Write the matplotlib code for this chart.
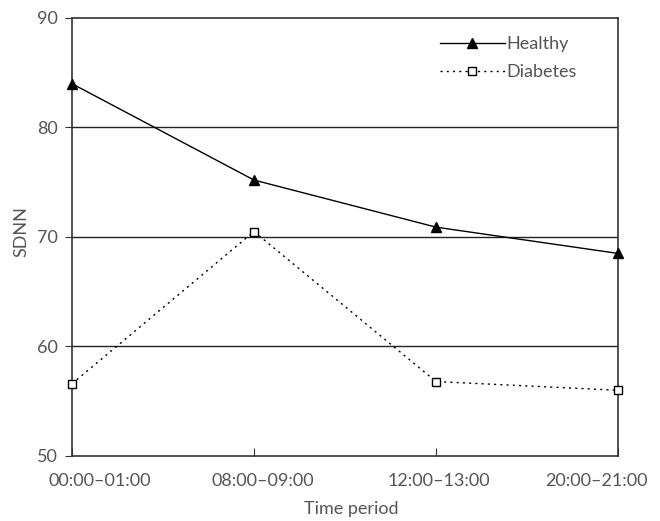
import matplotlib.pyplot as plt
import matplotlib.transforms as mtransforms

# data
periods = ['00:00–01:00', '08:00–09:00', '12:00–13:00', '20:00–21:00']
healthy = [84.0, 75.2, 70.9, 68.5]
diabetes = [56.6, 70.5, 56.8, 56.0]

plt.rcParams['font.family'] = ['Lato', 'DejaVu Sans']
txt = '#555555'

fig = plt.figure(figsize=(6.6, 5.21), dpi=100)
ax = fig.add_axes([72 / 660, 1 - 456 / 521, 546 / 660, 438 / 521])

x = range(len(periods))
for v in [60, 70, 80]:
    ax.axhline(v, color='#222222', lw=1.0, zorder=1)

ax.plot(x, healthy, color='black', lw=1.0, marker='^', ms=7.5,
        label='Healthy', clip_on=False, zorder=3)
ax.plot(x, diabetes, color='black', lw=1.0, ls=(0, (1.5, 3)), marker='s', ms=6,
        mfc='white', mec='black', mew=1.0, label='Diabetes', clip_on=False, zorder=3)

ax.set_xlim(0, 3)
ax.set_ylim(50, 90)
ax.set_xticks(list(x))
ax.set_xticklabels(periods)
ax.set_yticks([50, 60, 70, 80, 90])
ax.tick_params(axis='x', direction='in', length=6, colors='#333333', labelcolor=txt,
               labelsize=13, pad=12)
ax.tick_params(axis='y', direction='out', length=5, colors='#333333', labelcolor=txt,
               labelsize=13, pad=5)
for s in ax.spines.values():
    s.set_color('#333333')
    s.set_linewidth(1.2)

# tick labels in the original are pushed inward so they stay inside the figure
shifts = [28, 9, 3, -22]
for lab, dx in zip(ax.get_xticklabels(), shifts):
    off = mtransforms.ScaledTranslation(dx / 100, 0, fig.dpi_scale_trans)
    lab.set_transform(lab.get_transform() + off)

ax.set_xlabel('Time period', color=txt, fontsize=13)
ax.xaxis.set_label_coords(351 / 660, 1 - 509 / 521, transform=fig.transFigure)
ax.xaxis.label.set_va('center')
ax.set_ylabel('SDNN', color=txt, fontsize=13)
ax.yaxis.set_label_coords(21 / 660, 1 - 232 / 521, transform=fig.transFigure)
ax.yaxis.label.set_va('center')

ax.legend(loc='upper right', bbox_to_anchor=(0.955, 0.995), frameon=False, fontsize=13,
          handlelength=3.6, handletextpad=0.1, labelspacing=0.65, labelcolor=txt)

fig.savefig('out.png', dpi=100)
